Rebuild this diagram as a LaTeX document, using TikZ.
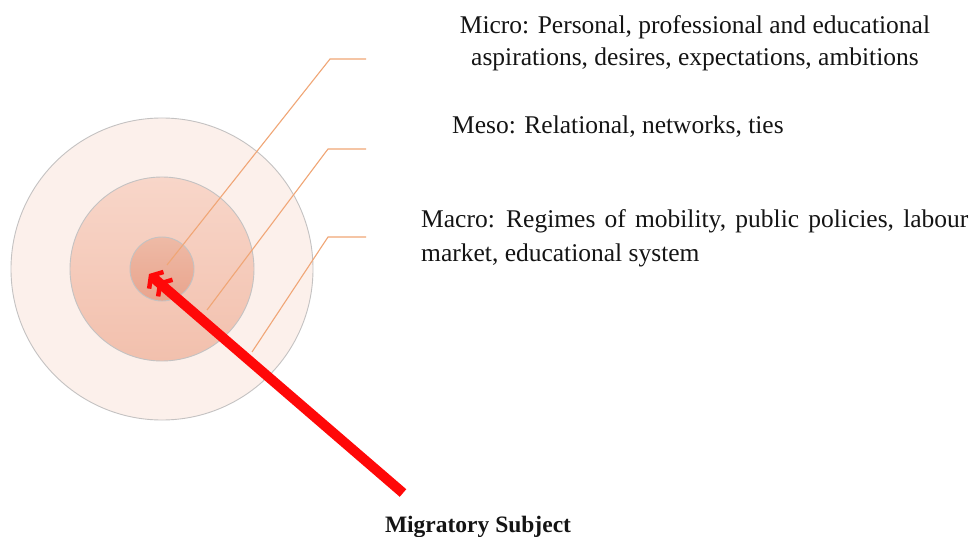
\documentclass[tikz,border=0pt]{standalone}
\usepackage{fontspec}
\setmainfont{Liberation Serif}
\usetikzlibrary{arrows.meta}
\definecolor{ringline}{HTML}{C4C2C2}
\definecolor{outerfill}{HTML}{FCF0EB}
\definecolor{midtop}{HTML}{F8D6C9}
\definecolor{midbot}{HTML}{F2C0AD}
\definecolor{innertop}{HTML}{EEBAA6}
\definecolor{innerbot}{HTML}{E9A48D}
\definecolor{leader}{HTML}{F0A676}
\definecolor{textcol}{HTML}{141414}
\definecolor{arrowred}{HTML}{FF0808}
\tikzset{
  ring/.style={draw=ringline, line width=0.9pt},
  leaderline/.style={draw=leader, line width=1.1pt},
  label/.style={text=textcol, inner sep=0pt, font=\fontsize{25.5}{32}\selectfont},
  pointer/.style={draw=arrowred, line width=10pt,
    -{Straight Barb[length=7pt,width=22pt,line width=4.5pt]Straight Barb[length=7pt,width=22pt,line width=4.5pt]}},
}
\begin{document}
\begin{tikzpicture}[x=1pt,y=-1pt]
\useasboundingbox (0,0) rectangle (976,537);
\fill[white] (0,0) rectangle (976,537);
% concentric spheres of influence
\coordinate (centre) at (162,269);
\draw[ring, fill=outerfill] (centre) circle[radius=151];
\draw[ring, top color=midtop, bottom color=midbot] (centre) circle[radius=92];
\draw[ring, top color=innertop, bottom color=innerbot] (centre) circle[radius=32];
% leader lines
\coordinate (l1s) at (167,265);
\coordinate (l1k) at (330,59);
\coordinate (l1e) at (366,59);
\coordinate (l2s) at (207,310);
\coordinate (l2k) at (328,149);
\coordinate (l2e) at (366,149);
\coordinate (l3s) at (252,352);
\coordinate (l3k) at (328,237);
\coordinate (l3e) at (366,237);
\draw[leaderline] (l1s) -- (l1k) -- (l1e);
\draw[leaderline] (l2s) -- (l2k) -- (l2e);
\draw[leaderline] (l3s) -- (l3k) -- (l3e);
% labels
\node[label, align=center, anchor=center] (micro) at (695,43)
  {Micro: Personal, professional and educational\\aspirations, desires, expectations, ambitions};
\node[label, anchor=base west] (meso) at (452,134) {Meso: Relational, networks, ties};
\node[label, align=left, anchor=north west, font=\fontsize{25.5}{34}\selectfont] (macro) at (421,209)
  {\spaceskip=9.2pt plus 2pt\relax Macro: Regimes of mobility, public policies, labour\\market, educational system};
\node[label, anchor=base, font=\fontsize{23.5}{28}\selectfont\bfseries] (subject) at (478,532) {Migratory Subject};
% arrow towards the migratory subject
\coordinate (tail) at (403,493);
\coordinate (tip) at (149,274);
\draw[pointer] (tail) -- (tip);
\end{tikzpicture}
\end{document}
